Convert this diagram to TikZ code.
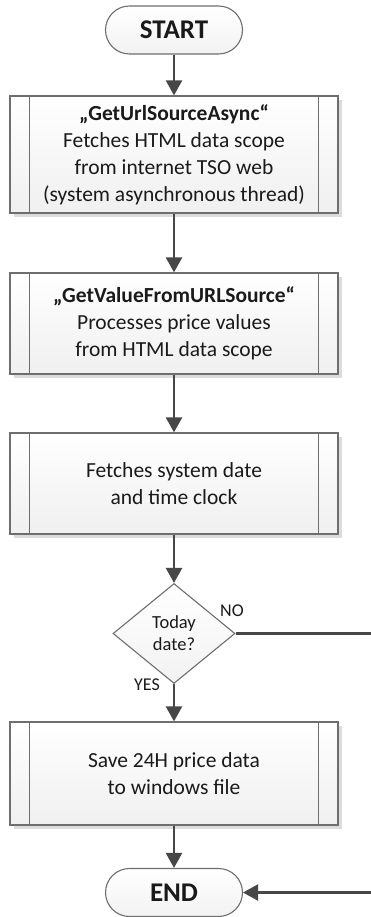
\documentclass[tikz,border=0pt]{standalone}
\usepackage{fontspec}
\setmainfont{Carlito}
\usetikzlibrary{arrows.meta,shapes.geometric,shadows,calc}

\definecolor{edgegray}{HTML}{6E6E6E}
\definecolor{flowgray}{HTML}{474747}
\definecolor{inkblack}{HTML}{1A1A1A}
\definecolor{shadowgray}{HTML}{DCDCDC}

\tikzset{
  procbox/.style={draw=edgegray, line width=1.2pt, rectangle,
    minimum width=328pt, inner sep=0pt, align=center, text=inkblack,
    top color=white, bottom color=black!6,
    drop shadow={shadow xshift=4pt, shadow yshift=-4pt, fill=shadowgray, opacity=1},
    font=\fontsize{21.5}{27}\selectfont},
  procline/.style={draw=edgegray, line width=1.2pt},
  terminal/.style={draw=edgegray, line width=1.1pt, rectangle, rounded corners=24pt,
    minimum width=137pt, minimum height=48pt, inner sep=0pt, text=inkblack,
    top color=white, bottom color=black!5,
    font=\fontsize{27}{32}\selectfont\bfseries},
  decision/.style={draw=edgegray, line width=1.1pt, diamond, aspect=1.22,
    minimum width=122pt, minimum height=100pt, inner sep=0pt, align=center,
    text=inkblack, top color=white, bottom color=black!5,
    font=\fontsize{18.5}{22}\selectfont},
  flow/.style={draw=flowgray, line width=2.3pt,
    -{Triangle[length=15pt,width=16pt]}},
  flowline/.style={draw=flowgray, line width=2.3pt},
  tag/.style={text=inkblack, font=\fontsize{18}{22}\selectfont, inner sep=0pt}
}

\begin{document}
\begin{tikzpicture}[x=1pt,y=-1pt]
  \useasboundingbox[fill=white] (0,0) rectangle (371,917);

  % start / end terminals
  \node[terminal] (start) at (174,30) {START};
  \node[terminal] (finish) at (174,892.5) {END};

  % process steps
  \node[procbox, minimum height=117pt] (fetch) at (174,154.5)
    {\textbf{„GetUrlSourceAsync“}\\Fetches HTML data scope\\from internet TSO web\\(system asynchronous thread)};
  \node[procbox, minimum height=101pt] (parse) at (174,323.5)
    {\textbf{„GetValueFromURLSource“}\\Processes price values\\from HTML data scope};
  \node[procbox, minimum height=101pt] (clock) at (174,483.5)
    {Fetches system date\\and time clock};
  \node[decision] (today) at (174,633.5) {Today\\date?};
  \node[procbox, minimum height=103pt] (save) at (174,773.5)
    {Save 24H price data\\to windows file};

  % inner side bars of the process boxes
  \foreach \b in {fetch,parse,clock,save}{
    \draw[procline] ([xshift=20pt]\b.north west) -- ([xshift=20pt]\b.south west);
    \draw[procline] ([xshift=-20pt]\b.north east) -- ([xshift=-20pt]\b.south east);
  }

  % main flow
  \draw[flow] (start) -- (fetch);
  \draw[flow] (fetch) -- (parse);
  \draw[flow] (parse) -- (clock);
  \draw[flow] (clock) -- (today);
  \draw[flow] (today) -- (save);
  \draw[flow] (save) -- (finish);

  % "NO" branch returning to the end terminal
  \coordinate (detour) at (374,633.5);
  \draw[flow] (today.east) -- (detour) |- (finish.east);

  % branch labels
  \node[tag] (nolabel) at (232,611) {NO};
  \node[tag] (yeslabel) at (147,685) {YES};
\end{tikzpicture}
\end{document}
